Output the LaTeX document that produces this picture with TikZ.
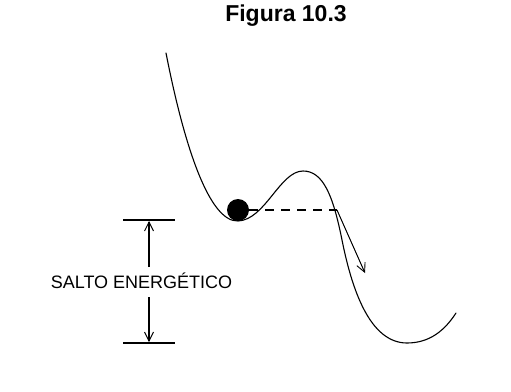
\documentclass[tikz,border=0pt]{standalone}
\usepackage{fontspec}
\setmainfont{Liberation Sans}
\usetikzlibrary{arrows.meta}
\begin{document}
\begin{tikzpicture}[x=1pt,y=-1pt,
  curve/.style={line width=1.1pt, line cap=round},
  dimline/.style={line width=1.1pt},
  openarrow/.style={-{Straight Barb[length=9pt,width=9pt,line width=0.9pt]}},
  txt/.style={inner sep=0pt, font=\fontsize{18}{20}\selectfont}
]
\useasboundingbox (0,0) rectangle (511,391);
\node[inner sep=0pt, font=\fontsize{23}{26}\bfseries\selectfont] (title) at (286,16) {Figura 10.3};
% energy curve
\coordinate (c0) at (166,53);
\coordinate (cmin) at (238,221);
\coordinate (cmax) at (303,171);
\coordinate (cinf) at (342,240);
\coordinate (cmin2) at (407,343);
\coordinate (cend) at (456,313);
\draw[curve] (c0) .. controls (185,150) and (210,222) .. (cmin)
  .. controls (265,220) and (280,171) .. (cmax)
  .. controls (323,171) and (333,195) .. (cinf)
  .. controls (352,290) and (370,343) .. (cmin2)
  .. controls (430,343) and (445,330) .. (cend);
% ball
\node[circle, fill=black, inner sep=0pt, minimum size=22pt] (ball) at (238,210) {};
% dashed level line and arrow
\coordinate (edge) at (337,210);
\coordinate (tip) at (365,273);
\draw[line width=1.6pt, dash pattern=on 9pt off 7pt] (ball.east) -- (edge);
\draw[line width=1pt, openarrow] (edge) -- (tip);
% dimension
\coordinate (tl) at (123,220);
\coordinate (tr) at (175,220);
\coordinate (bl) at (123,343);
\coordinate (br) at (175,343);
\coordinate (ttop) at (149,221);
\coordinate (tbot) at (149,342);
\coordinate (ua) at (149,267);
\coordinate (la) at (149,297);
\draw[dimline] (tl) -- (tr);
\draw[dimline] (bl) -- (br);
\draw[dimline, openarrow] (ua) -- (ttop);
\draw[dimline, openarrow] (la) -- (tbot);
\node[txt] (label) at (141.5,281) {SALTO ENERGÉTICO};
\end{tikzpicture}
\end{document}
